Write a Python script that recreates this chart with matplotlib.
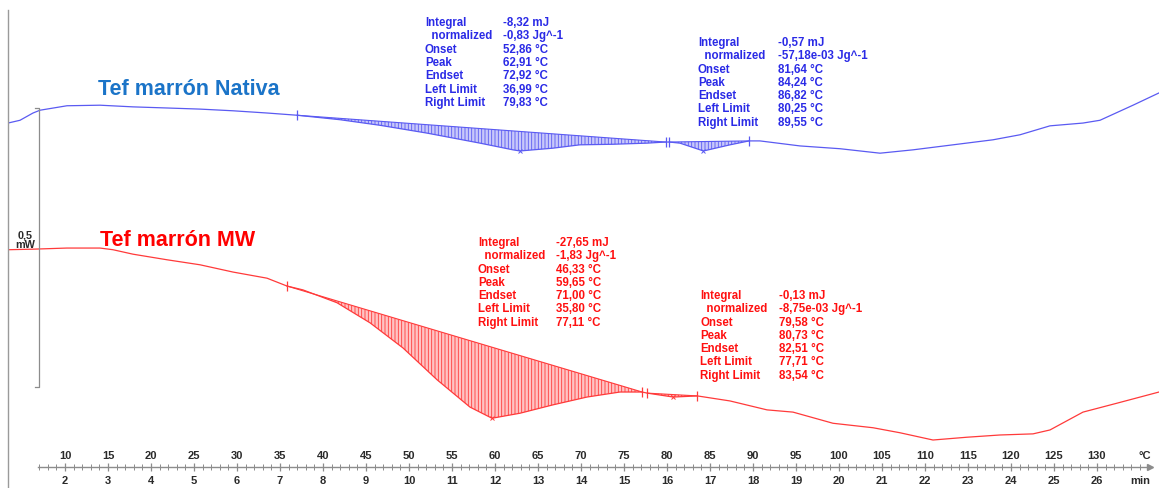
import numpy as np
import matplotlib
matplotlib.use("Agg")
import matplotlib.pyplot as plt
from matplotlib.transforms import offset_copy

plt.rcParams['font.family'] = ['Liberation Sans', 'DejaVu Sans']
plt.rcParams['font.weight'] = 'bold'
plt.rcParams['hatch.linewidth'] = 0.6

# ── DSC heat flow (mW) vs sample temperature (°C) ─────────────────────────
HEATING_RATE = 5.0  # °C/min

temp_nativa = [3.37, 4.77, 6.28, 7.09, 10.23, 14.07, 17.91, 21.86, 25.70, 29.53,
               33.49, 36.99, 41.98, 46.63, 52.09, 58.26, 62.09, 62.91, 66.74,
               69.88, 73.72, 77.67, 79.83, 80.25, 81.51, 84.24, 87.33, 89.55,
               90.81, 95.47, 100.12, 104.77, 108.60, 113.26, 117.91, 121.05,
               124.53, 128.37, 130.35, 134.19, 137.21]
hf_nativa = [0.473, 0.478, 0.491, 0.496, 0.504, 0.505, 0.502, 0.500, 0.498, 0.495,
             0.491, 0.487, 0.479, 0.469, 0.455, 0.437, 0.425, 0.423, 0.428,
             0.434, 0.435, 0.437, 0.439, 0.439, 0.437, 0.423, 0.434, 0.441,
             0.441, 0.432, 0.427, 0.419, 0.425, 0.434, 0.443, 0.452,
             0.468, 0.473, 0.478, 0.505, 0.527]

temp_mw = [3.37, 6.28, 10.23, 14.07, 15.58, 17.91, 21.86, 25.70, 29.53, 33.49,
           35.80, 37.67, 41.63, 45.47, 49.30, 53.26, 57.09, 59.65, 62.91, 66.74,
           70.70, 74.53, 77.11, 77.71, 80.73, 83.54, 87.33, 91.63, 94.65, 99.30,
           103.95, 107.09, 110.93, 114.88, 118.72, 122.56, 124.53, 128.37,
           132.33, 137.21]
hf_mw = [0.246, 0.247, 0.249, 0.249, 0.246, 0.238, 0.228, 0.219, 0.206, 0.195,
         0.181, 0.174, 0.151, 0.115, 0.070, 0.013, -0.036, -0.056, -0.047, -0.032,
         -0.018, -0.009, -0.009, -0.011, -0.018, -0.016, -0.025, -0.041, -0.045, -0.065,
         -0.073, -0.082, -0.095, -0.090, -0.086, -0.084, -0.077, -0.045,
         -0.029, -0.009]

# integration windows and peak temperatures (°C)
limits_nativa = [(36.99, 79.83), (80.25, 89.55)]
peaks_nativa = [62.91, 84.24]
limits_mw = [(35.80, 77.11), (77.71, 83.54)]
peaks_mw = [59.65, 80.73]

eval_labels = ["Integral", "  normalized", "Onset", "Peak", "Endset",
               "Left Limit", "Right Limit"]
eval_nativa_1 = ["-8,32 mJ", "-0,83 Jg^-1", "52,86 °C", "62,91 °C", "72,92 °C",
                 "36,99 °C", "79,83 °C"]
eval_nativa_2 = ["-0,57 mJ", "-57,18e-03 Jg^-1", "81,64 °C", "84,24 °C", "86,82 °C",
                 "80,25 °C", "89,55 °C"]
eval_mw_1 = ["-27,65 mJ", "-1,83 Jg^-1", "46,33 °C", "59,65 °C", "71,00 °C",
             "35,80 °C", "77,11 °C"]
eval_mw_2 = ["-0,13 mJ", "-8,75e-03 Jg^-1", "79,58 °C", "80,73 °C", "82,51 °C",
             "77,71 °C", "83,54 °C"]

temp_ticks = list(range(10, 135, 5))
SCALE_BAR_MW = 0.5

# colours
BLUE_LINE, BLUE_FACE, BLUE_TEXT, BLUE_TITLE = '#5a5af2', '#c8c8fa', '#2a2ae6', '#1b74c8'
RED_LINE, RED_FACE, RED_TEXT = '#ff3a3a', '#ffc4c4', '#ff1010'
GRAY, DARK = '#8c8c8c', '#2a2a2a'


def shade_peak(ax, temp, hf, lo, hi, peak, line_c, face_c):
    """Hatch the area between the curve and a straight baseline over [lo, hi]."""
    temp = np.asarray(temp)
    hf = np.asarray(hf)
    sel = (temp >= lo) & (temp <= hi)
    t, y = temp[sel], hf[sel]
    base = np.interp(t, [t[0], t[-1]], [y[0], y[-1]])
    ax.fill_between(t, y, base, facecolor=face_c, edgecolor=line_c,
                    hatch='|||||', linewidth=0, zorder=1)
    ax.plot([t[0], t[-1]], [y[0], y[-1]], color=line_c, lw=0.8, zorder=2)
    ax.plot([t[0], t[-1]], [y[0], y[-1]], ls='none', marker='|', ms=7,
            mew=0.9, color=line_c, zorder=3)
    ax.plot([peak], [np.interp(peak, temp, hf)], ls='none', marker='x', ms=3,
            mew=0.7, color=line_c, zorder=3)


def eval_block(ax, t_label, t_value, y_top, values, color):
    dy = 13.3 / 558
    for i, (lab, val) in enumerate(zip(eval_labels, values)):
        y = y_top - i * dy
        ax.text(t_label, y, lab, color=color, fontsize=8.3, va='center', ha='left')
        ax.text(t_value, y, val, color=color, fontsize=8.3, va='center', ha='left')


fig = plt.figure(figsize=(11.59, 4.88), dpi=100)
ax = fig.add_axes([8 / 1159, 0, 1151 / 1159, 478 / 488])
ax.set_xlim(3.372, 137.21)
ax.set_ylim(-0.1810, 0.6756)

# ── Curves ────────────────────────────────────────────────────────────── #
ax.plot(temp_nativa, hf_nativa, color=BLUE_LINE, lw=0.9, zorder=2)
ax.plot(temp_mw, hf_mw, color=RED_LINE, lw=0.9, zorder=2)

for (lo, hi), pk in zip(limits_nativa, peaks_nativa):
    shade_peak(ax, temp_nativa, hf_nativa, lo, hi, pk, BLUE_LINE, BLUE_FACE)
for (lo, hi), pk in zip(limits_mw, peaks_mw):
    shade_peak(ax, temp_mw, hf_mw, lo, hi, pk, RED_LINE, RED_FACE)

# ── Sample names and evaluation tables ────────────────────────────────── #
ax.text(13.84, 0.534, "Tef marrón Nativa", color=BLUE_TITLE, fontsize=15.5,
        va='center', ha='left')
ax.text(14.07, 0.263, "Tef marrón MW", color='#ff0000', fontsize=15.5,
        va='center', ha='left')

eval_block(ax, 51.86, 60.93, 0.6523, eval_nativa_1, BLUE_TEXT)
eval_block(ax, 83.60, 92.91, 0.6165, eval_nativa_2, BLUE_TEXT)
eval_block(ax, 58.02, 67.09, 0.2581, eval_mw_1, RED_TEXT)
eval_block(ax, 83.84, 93.02, 0.1631, eval_mw_2, RED_TEXT)

# ── Vertical scale bar ────────────────────────────────────────────────── #
bar_t = 6.98
ax.plot([bar_t - 0.45, bar_t, bar_t, bar_t - 0.45],
        [SCALE_BAR_MW, SCALE_BAR_MW, 0, 0], color=GRAY, lw=0.9)
ax.text(5.35, 0.263, "0,5\nmW", color=DARK, fontsize=7.8, ha='center',
        va='center', linespacing=1.05)

# ── Temperature / time axis ───────────────────────────────────────────── #
axis_y = -0.1434
t_start, t_end = 6.86, 136.16
for side in ('right', 'bottom'):
    ax.spines[side].set_visible(False)
ax.spines['left'].set_color('#9a9a9a')
ax.spines['left'].set_linewidth(1.0)
ax.spines['top'].set_position(('data', axis_y))
ax.spines['top'].set_bounds(t_start, t_end)
ax.spines['top'].set_color(GRAY)
ax.spines['top'].set_linewidth(1.0)

ax.xaxis.set_ticks_position('top')
ax.set_xticks(temp_ticks)
ax.set_xticks(np.arange(7, 136), minor=True)
ax.set_yticks([])
ax.tick_params(axis='x', which='both', direction='inout', color=GRAY,
               labelsize=8, labelcolor=DARK, pad=1.5)
ax.tick_params(axis='x', which='major', length=6, width=0.9)
ax.tick_params(axis='x', which='minor', length=4, width=0.7)
ax.plot([t_end], [axis_y], marker='>', ms=4, color=GRAY, clip_on=False)

below = offset_copy(ax.transData, fig=fig, x=0, y=-14, units='dots')
above = offset_copy(ax.transData, fig=fig, x=0, y=11, units='dots')
for t in temp_ticks:
    ax.text(t, axis_y, f"{t / HEATING_RATE:.0f}", transform=below, fontsize=8,
            color=DARK, ha='center', va='center')
ax.text(135.6, axis_y, "°C", transform=above, fontsize=8, color=DARK,
        ha='center', va='center')
ax.text(135.0, axis_y, "min", transform=below, fontsize=8, color=DARK,
        ha='center', va='center')

fig.savefig("out.png", dpi=100, facecolor='white')
